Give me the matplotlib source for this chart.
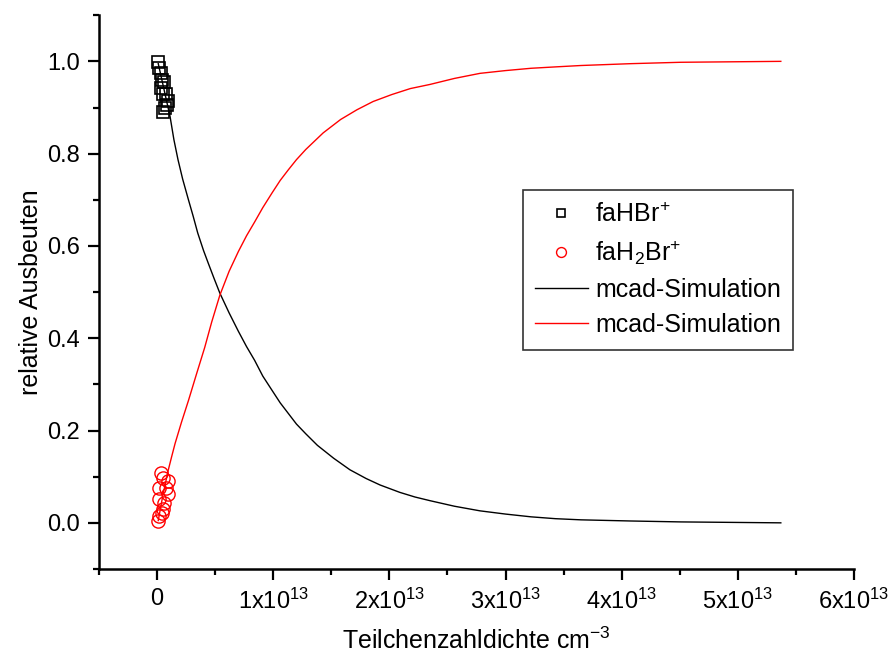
import numpy as np
import matplotlib
matplotlib.use('Agg')
import matplotlib.pyplot as plt
from matplotlib.ticker import MultipleLocator, FuncFormatter

plt.rcParams['font.family'] = ['Liberation Sans', 'DejaVu Sans']
plt.rcParams['mathtext.fontset'] = 'custom'
plt.rcParams['mathtext.rm'] = 'Liberation Sans'

# Messpunkte (x in 1e12 cm^-3)
hbr_x = [0.05, 0.2, 0.3, 0.4, 0.35, 0.6, 0.5, 0.8, 0.9, 0.7, 0.55, 0.85]
hbr_y = [0.998, 0.985, 0.975, 0.96, 0.943, 0.955, 0.93, 0.93, 0.915, 0.9, 0.89, 0.905]
h2br_x = [0.3, 0.5, 0.9, 0.2, 0.8, 0.9, 0.2, 0.6, 0.5, 0.4, 0.2, 0.05]
h2br_y = [0.108, 0.098, 0.09, 0.076, 0.075, 0.063, 0.052, 0.043, 0.03, 0.022, 0.014, 0.005]

# mcad-Simulation
sim1_x = [0.1, 0.5, 1.12, 1.45, 1.8, 2.2, 2.7, 3.1, 3.5, 4.0, 4.4, 4.9, 5.4, 6.2, 7.0, 7.7,
          8.4, 9.1, 9.9, 10.6, 11.3, 12.0, 12.8, 13.8, 15.2, 16.6, 18.0, 19.2, 20.9, 22.2,
          23.5, 25.6, 27.8, 30.0, 32.2, 34.3, 36.5, 40.8, 45.1, 49.4, 53.7]
sim1_y = [0.995, 0.95, 0.88, 0.83, 0.787, 0.745, 0.70, 0.665, 0.628, 0.59, 0.563, 0.53,
          0.498, 0.455, 0.415, 0.382, 0.352, 0.318, 0.287, 0.26, 0.237, 0.214, 0.193, 0.168,
          0.14, 0.115, 0.096, 0.082, 0.066, 0.056, 0.048, 0.036, 0.026, 0.019, 0.013,
          0.009, 0.0065, 0.004, 0.002, 0.001, 0.0]
sim2_x = [0.1, 0.5, 0.95, 1.25, 1.55, 2.1, 2.7, 3.4, 4.1, 4.7, 5.4, 6.2, 7.0, 7.7, 8.4,
          9.1, 9.9, 10.6, 11.3, 12.0, 12.8, 14.3, 15.8, 17.2, 18.6, 20.2, 21.8, 23.5,
          25.6, 27.8, 30.0, 32.2, 34.3, 36.5, 40.8, 45.1, 49.4, 53.7]
sim2_y = [0.005, 0.06, 0.113, 0.143, 0.172, 0.218, 0.265, 0.323, 0.38, 0.435, 0.493, 0.545,
          0.588, 0.622, 0.652, 0.683, 0.715, 0.742, 0.765, 0.787, 0.809, 0.845, 0.874,
          0.895, 0.913, 0.928, 0.941, 0.95, 0.963, 0.974, 0.98, 0.985, 0.988, 0.991,
          0.995, 0.998, 0.999, 1.0]

s = 1e12
fig = plt.figure(figsize=(8.88, 6.61), dpi=100)
ax = fig.add_axes([0.1115, 0.1392, 0.8502, 0.8378])

ax.plot(np.array(hbr_x) * s, hbr_y, 's', mfc='none', mec='black', ms=8, mew=1.2,
        label=r'faHBr$\mathregular{^{+}}$')
ax.plot(np.array(h2br_x) * s, h2br_y, 'o', mfc='none', mec='red', ms=9.5, mew=1.0,
        label=r'faH$\mathregular{_2}$Br$\mathregular{^{+}}$')
ax.plot(np.array(sim1_x) * s, sim1_y, '-', color='black', lw=1.0, label='mcad-Simulation')
ax.plot(np.array(sim2_x) * s, sim2_y, '-', color='red', lw=1.0, label='mcad-Simulation')

ax.set_xlim(-0.5e13, 6e13)
ax.set_ylim(-0.1, 1.1)
ax.xaxis.set_major_locator(MultipleLocator(1e13))
ax.xaxis.set_minor_locator(MultipleLocator(0.5e13))
ax.yaxis.set_major_locator(MultipleLocator(0.2))
ax.yaxis.set_minor_locator(MultipleLocator(0.1))


def xfmt(v, pos):
    n = int(round(v / 1e13))
    if n == 0:
        return '0'
    return r'$\mathregular{%dx10^{13}}$' % n


ax.xaxis.set_major_formatter(FuncFormatter(xfmt))
ax.yaxis.set_major_formatter(FuncFormatter(lambda v, p: '%.1f' % v))

for side in ['top', 'right']:
    ax.spines[side].set_visible(False)
for side in ['left', 'bottom']:
    ax.spines[side].set_linewidth(1.8)
ax.tick_params(which='major', direction='out', length=8, width=1.6, labelsize=17, pad=6)
ax.tick_params(which='minor', direction='out', length=4.5, width=1.6)

ax.set_xlabel(r'Teilchenzahldichte cm$\mathregular{^{-3}}$', fontsize=18, labelpad=10)
ax.set_ylabel('relative Ausbeuten', fontsize=18, labelpad=3)

leg = ax.legend(loc='upper left', bbox_to_anchor=(0.561, 0.684), borderaxespad=0,
                fontsize=18, frameon=True, fancybox=False, edgecolor='black',
                markerscale=0.75, handlelength=2.1, labelspacing=0.45, borderpad=0.5,
                handletextpad=0.3)
leg.get_frame().set_linewidth(1.2)

fig.savefig('out.png', dpi=100)
